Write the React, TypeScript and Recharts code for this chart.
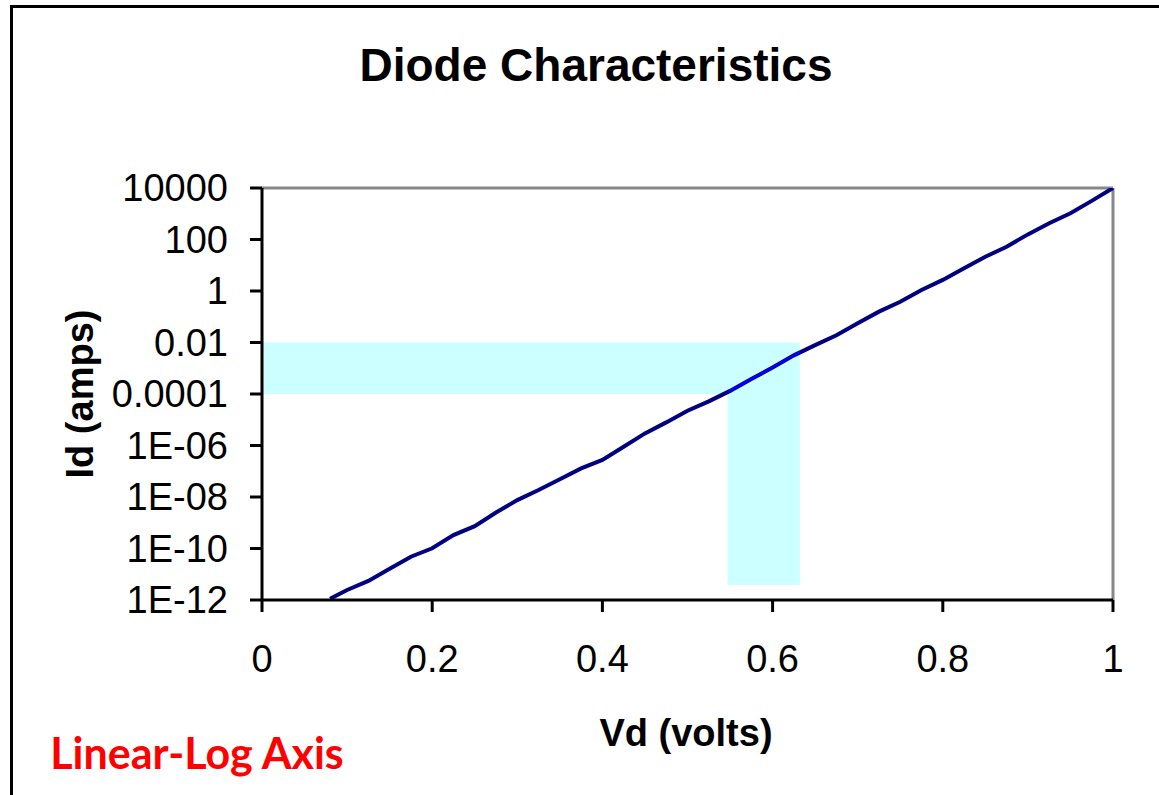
import React from 'react';
import {
  LineChart,
  Line,
  XAxis,
  YAxis,
  ReferenceArea,
  ReferenceLine,
} from 'recharts';

// Vd (volts) and Id (amps)
const volts = [
  0.08, 0.1, 0.125, 0.15, 0.175, 0.2, 0.225, 0.25, 0.275, 0.3, 0.325, 0.35,
  0.375, 0.4, 0.425, 0.45, 0.475, 0.5, 0.525, 0.55, 0.575, 0.6, 0.625, 0.65,
  0.675, 0.7, 0.725, 0.75, 0.775, 0.8, 0.825, 0.85, 0.875, 0.9, 0.925, 0.95,
  0.975, 1.0,
];
const amps = [
  1.12e-12, 2.45e-12, 5.5e-12, 1.62e-11, 4.8e-11, 1.02e-10, 3.3e-10, 7.4e-10,
  2.5e-9, 7.6e-9, 1.86e-8, 4.9e-8, 1.29e-7, 2.75e-7, 8.9e-7, 2.95e-6, 7.9e-6,
  2.24e-5, 5.2e-5, 1.32e-4, 3.8e-4, 1.07e-3, 3.16e-3, 7.9e-3, 1.9e-2, 5.6e-2,
  0.158, 0.38, 1.1, 2.7, 7.6, 21.4, 52.5, 158, 427, 1050, 3160, 10000,
];

// straight segment drawn over the curve inside the highlighted window
const fitVolts = [0.548, 0.633];
const fitAmps = [1.23e-4, 4.37e-3];

// highlighted ranges
const bandVolts = [0, 0.547, 0.632];
const bandAmps = [3.8e-12, 1e-4, 1e-2];

const xTicks = [0, 0.2, 0.4, 0.6, 0.8, 1];
const yTicks = [1e-12, 1e-10, 1e-8, 1e-6, 1e-4, 1e-2, 1, 100, 10000];

const curve = volts.map((v, i) => ({ v, id: amps[i] }));
const fit = fitVolts.map((v, i) => ({ v, id: fitAmps[i] }));

const fmtAmps = (val: number) => {
  if (val >= 1e-4) return String(val);
  const exp = Math.round(Math.log10(val));
  const abs = Math.abs(exp);
  return `1E-${abs < 10 ? '0' + abs : abs}`;
};

const FONT = '"Liberation Sans", Arial, sans-serif';
const tickStyle = { fill: '#000', fontSize: 38, fontFamily: FONT };

export default function App() {
  return (
    <div
      style={{
        position: 'absolute',
        left: 0,
        top: 0,
        width: 1159,
        height: 795,
        background: '#fff',
        overflow: 'hidden',
      }}
    >
      <div
        style={{
          position: 'absolute',
          left: 10,
          top: 5,
          width: 1200,
          height: 850,
          borderLeft: '3px solid #000',
          borderTop: '3px solid #000',
        }}
      />
      <div
        style={{
          position: 'absolute',
          left: 596,
          top: 65,
          transform: 'translate(-50%, -50%)',
          fontFamily: FONT,
          fontWeight: 'bold',
          fontSize: 46,
          whiteSpace: 'nowrap',
        }}
      >
        Diode Characteristics
      </div>
      <LineChart
        width={1159}
        height={795}
        margin={{ top: 188, right: 46, bottom: 135, left: 162 }}
        style={{ position: 'absolute', left: 0, top: 0 }}
      >
        <ReferenceArea
          x1={bandVolts[0]}
          x2={bandVolts[2]}
          y1={bandAmps[1]}
          y2={bandAmps[2]}
          fill="#ccffff"
          fillOpacity={1}
          stroke="none"
        />
        <ReferenceArea
          x1={bandVolts[1]}
          x2={bandVolts[2]}
          y1={bandAmps[0]}
          y2={bandAmps[1]}
          fill="#ccffff"
          fillOpacity={1}
          stroke="none"
        />
        <ReferenceLine y={10000} stroke="#888" strokeWidth={3} />
        <ReferenceLine x={1} stroke="#888" strokeWidth={3} />
        <XAxis
          type="number"
          dataKey="v"
          domain={[0, 1]}
          ticks={xTicks}
          height={60}
          axisLine={{ stroke: '#000', strokeWidth: 3 }}
          tickLine={{ stroke: '#000', strokeWidth: 3 }}
          tickSize={12}
          tickMargin={33}
          tick={tickStyle}
          allowDuplicatedCategory={false}
        />
        <YAxis
          type="number"
          scale="log"
          domain={[1e-12, 10000]}
          ticks={yTicks}
          width={100}
          interval={0}
          axisLine={{ stroke: '#000', strokeWidth: 3 }}
          tickLine={{ stroke: '#000', strokeWidth: 3 }}
          tickSize={12}
          tickMargin={22}
          tick={tickStyle}
          tickFormatter={fmtAmps}
          allowDataOverflow
        />
        <Line
          data={curve}
          dataKey="id"
          stroke="#000080"
          strokeWidth={4}
          dot={false}
          isAnimationActive={false}
        />
        <Line
          data={fit}
          dataKey="id"
          stroke="#0000ff"
          strokeWidth={2.5}
          dot={false}
          isAnimationActive={false}
        />
      </LineChart>
      <div
        style={{
          position: 'absolute',
          left: 686,
          top: 733,
          transform: 'translate(-50%, -50%)',
          fontFamily: FONT,
          fontWeight: 'bold',
          fontSize: 38,
          whiteSpace: 'nowrap',
        }}
      >
        Vd (volts)
      </div>
      <div
        style={{
          position: 'absolute',
          left: 80,
          top: 394,
          transform: 'translate(-50%, -50%) rotate(-90deg)',
          fontFamily: FONT,
          fontWeight: 'bold',
          fontSize: 38,
          whiteSpace: 'nowrap',
        }}
      >
        Id (amps)
      </div>
      <div
        style={{
          position: 'absolute',
          left: 197,
          top: 752,
          transform: 'translate(-50%, -50%)',
          fontFamily: 'Lato, "Open Sans", sans-serif',
          fontWeight: 'bold',
          fontSize: 43,
          color: '#ff0000',
          whiteSpace: 'nowrap',
        }}
      >
        Linear-Log Axis
      </div>
    </div>
  );
}
